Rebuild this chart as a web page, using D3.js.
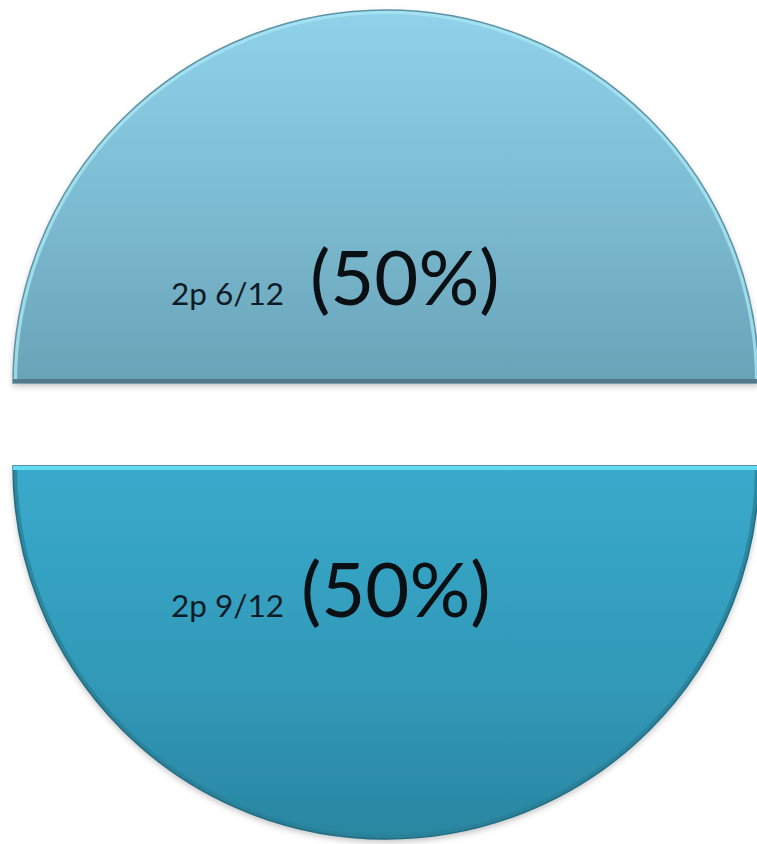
<!DOCTYPE html>
<html>
<head>
<meta charset="utf-8">
<script src="https://cdn.jsdelivr.net/npm/d3@7"></script>
<style>
  body { margin: 0; background: #fff; }
  svg { display: block; }
</style>
</head>
<body>
<script>
// data
var sliceNames = ["2p 6/12", "2p 9/12"];
var sliceValues = [50, 50];
var pctLabels = ["(50%)", "(50%)"];

var svgWidth = 757;
var svgHeight = 844;

var cx = 386;
var cy = 424.5;
var radius = 373;
var explode = 41.5;

var svg = d3.select("body")
    .append("svg")
    .attr("width", svgWidth)
    .attr("height", svgHeight);

var defs = svg.append("defs");

// gradients for each half
var grads = [
    { id: "gTop", stops: [["0%", "#8fd2ea"], ["45%", "#7fbfd5"], ["100%", "#69a3b8"]] },
    { id: "gBot", stops: [["0%", "#39aacb"], ["60%", "#3198b7"], ["100%", "#2a86a1"]] }
];
grads.forEach(function (g) {
    var lg = defs.append("linearGradient")
        .attr("id", g.id)
        .attr("x1", "0%").attr("x2", "0%")
        .attr("y1", "0%").attr("y2", "100%");
    g.stops.forEach(function (s) {
        lg.append("stop").attr("offset", s[0]).attr("stop-color", s[1]);
    });
});

var shadow = defs.append("filter")
    .attr("id", "shadow")
    .attr("x", "-10%").attr("y", "-10%")
    .attr("width", "120%").attr("height", "130%");
shadow.append("feDropShadow")
    .attr("dx", 0).attr("dy", 3)
    .attr("stdDeviation", 3)
    .attr("flood-color", "#000")
    .attr("flood-opacity", 0.25);

var pie = d3.pie()
    .sort(null)
    .startAngle(-Math.PI / 2)
    .endAngle(3 * Math.PI / 2)
    .value(function (d) { return d; });

var arc = d3.arc()
    .innerRadius(0)
    .outerRadius(radius);

var arcs = pie(sliceValues);

var chartGroup = svg.append("g")
    .attr("transform", `translate(${cx},${cy})`);

var slices = chartGroup.selectAll(".slice")
    .data(arcs)
    .enter()
    .append("g")
    .attr("class", "slice")
    .attr("transform", function (d) {
        var mid = (d.startAngle + d.endAngle) / 2;
        return `translate(${Math.sin(mid) * explode},${-Math.cos(mid) * explode})`;
    });

// clip paths so that rim strokes fall inside the shape
slices.append("clipPath")
    .attr("id", function (d, i) { return "clip" + i; })
    .append("path")
    .attr("d", arc);

slices.append("path")
    .attr("d", arc)
    .attr("fill", function (d, i) { return i == 0 ? "url(#gTop)" : "url(#gBot)"; })
    .attr("filter", "url(#shadow)");

// bevel rim
slices.append("path")
    .attr("d", arc)
    .attr("fill", "none")
    .attr("clip-path", function (d, i) { return "url(#clip" + i + ")"; })
    .attr("stroke", function (d, i) { return i == 0 ? "#a9e6f4" : "#2a7f98"; })
    .attr("stroke-opacity", 0.8)
    .attr("stroke-width", 8);

slices.append("path")
    .attr("d", arc)
    .attr("fill", "none")
    .attr("stroke", function (d, i) { return i == 0 ? "#5d93a6" : "#216d84"; })
    .attr("stroke-width", 1.5);

// flat edges: dark bottom edge on top half, bright top edge on lower half
slices.each(function (d, i) {
    var g = d3.select(this);
    if (i == 0) {
        g.append("rect")
            .attr("x", -radius).attr("y", -4)
            .attr("width", radius * 2).attr("height", 4)
            .attr("fill", "#52788a");
    } else {
        g.append("rect")
            .attr("x", -radius).attr("y", 0)
            .attr("width", radius * 2).attr("height", 4)
            .attr("fill", "#63dcf3");
    }
});

// labels
var labelBase = [-78, 151];
var pctStart = [-76, -85];

slices.append("text")
    .attr("x", -215)
    .attr("y", function (d, i) { return labelBase[i]; })
    .attr("font-family", "Lato, 'Open Sans', sans-serif")
    .attr("font-size", 31.5)
    .attr("fill", "#0d1b26")
    .text(function (d, i) { return sliceNames[i]; });

slices.append("text")
    .attr("x", function (d, i) { return pctStart[i]; })
    .attr("y", function (d, i) { return labelBase[i]; })
    .attr("font-family", "Lato, 'Open Sans', sans-serif")
    .attr("font-size", 76)
    .attr("fill", "#0a0f14")
    .text(function (d, i) { return pctLabels[i]; });
</script>
</body>
</html>
